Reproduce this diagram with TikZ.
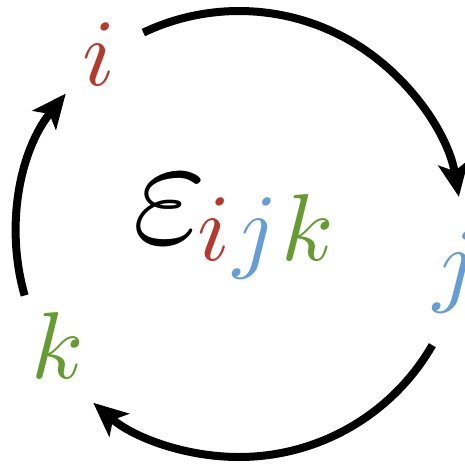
\documentclass[tikz,border=0pt]{standalone}
\usepackage{graphicx}
\usetikzlibrary{arrows.meta}
\definecolor{ired}{RGB}{178,58,46}
\definecolor{jblue}{RGB}{102,157,210}
\definecolor{kgreen}{RGB}{102,155,52}
\newcommand{\biglet}[1]{\scalebox{9.5}{\normalsize$#1$}}
\newcommand{\hugeeps}{\scalebox{16.0}{\normalsize$\varepsilon$}}
\tikzset{
  cyc/.style={line width=8pt, -{Stealth[length=34pt, width=30pt, inset=8pt]}},
  letter/.style={inner sep=0pt, anchor=base west}
}
\begin{document}
\begin{tikzpicture}[x=1pt,y=1pt]
\useasboundingbox (0,0) rectangle (465,-464);
\coordinate (c) at (239,-234);
% letters
\node[letter, text=ired]   (ti) at (82,-85)  {\biglet{i}};
\node[letter, text=jblue]  (tj) at (433,-294) {\biglet{j}};
\node[letter, text=kgreen] (tk) at (31,-378) {\biglet{k}};
\node[letter] (eps) at (132,-243) {\hugeeps};
\node[letter, text=ired]   (si) at (197,-260) {\biglet{i}};
\node[letter, text=jblue]  (sj) at (233,-260) {\biglet{j}};
\node[letter, text=kgreen] (sk) at (281,-260) {\biglet{k}};
% arcs
\coordinate (a1) at ([shift={(115.4:223)}]c);
\coordinate (a2) at ([shift={(-29.9:223)}]c);
\coordinate (a3) at ([shift={(196:223)}]c);
\draw[cyc] (a1) arc[start angle=115.4, end angle=9.6, radius=223];
\draw[cyc] (a2) arc[start angle=-29.9, end angle=-130.8, radius=223];
\draw[cyc] (a3) arc[start angle=196, end angle=141, radius=223];
\end{tikzpicture}
\end{document}
